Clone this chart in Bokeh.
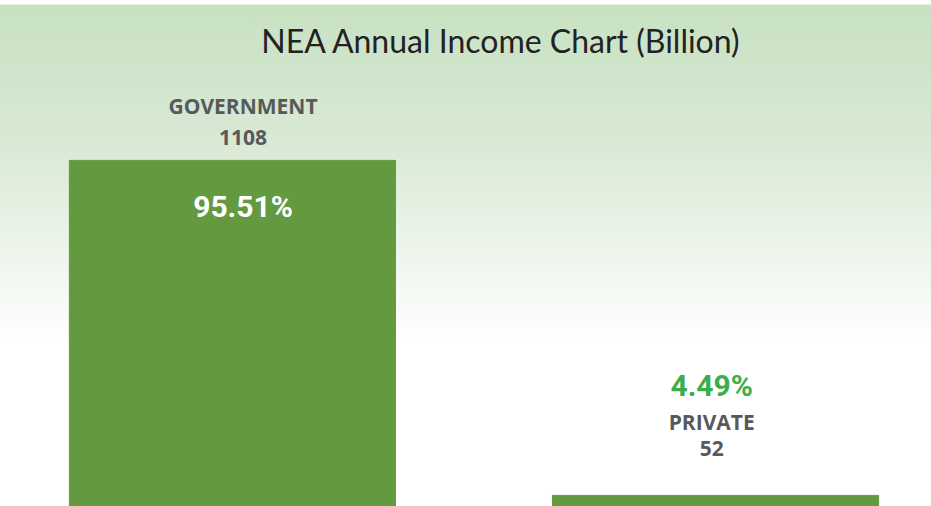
from bokeh.plotting import figure
from bokeh.models import Range1d, ColumnDataSource
from bokeh.core.properties import value
from bokeh.embed import file_html
from bokeh.resources import INLINE

categories = ["GOVERNMENT", "PRIVATE"]
incomes = [1108, 52]
shares = ["95.51%", "4.49%"]

BAR = "#639a3f"
GREY = "#58595b"
PCT_OUT = "#3cae49"

xs = list(range(len(categories)))
src = ColumnDataSource(dict(x=xs, top=incomes))

p = figure(width=931, height=506, output_backend="svg", toolbar_location=None,
           x_range=Range1d(-0.480, 1.447), y_range=Range1d(17, 1612),
           min_border=0)
p.styles = {"background": "linear-gradient(to bottom, #ffffff 0px, #ffffff 4px, #c7e1c2 5px, #d9e9d4 28%, #eef5ec 50%, #ffffff 68%, #ffffff 100%)"}
p.background_fill_color = None
p.border_fill_color = None
p.outline_line_color = None
p.xaxis.visible = False
p.yaxis.visible = False
p.grid.visible = False

p.vbar(x="x", top="top", width=0.675, bottom=0, source=src, color=BAR)

p.text(x=[0.557], y=[1486], text=["NEA Annual Income Chart (Billion)"],
       text_font=value("Lato"), text_font_size="32px", text_color="#222222",
       text_align="center", text_baseline="middle")

big = [i for i, v in enumerate(incomes) if v >= max(incomes) * 0.3]
small = [i for i, v in enumerate(incomes) if v < max(incomes) * 0.3]

label_font = value("Open Sans")
pct_font = value("Roboto")

for idx, dx, (name_off, val_off, pct_off, pct_col) in (
        (big, 0.022, (-54, -23, 46, "white")),
        (small, -0.008, (-73, -47, -110, PCT_OUT))):
    if not idx:
        continue
    sub = ColumnDataSource(dict(x=[xs[i] + dx for i in idx], y=[incomes[i] for i in idx],
                                name=[categories[i] for i in idx],
                                val=[str(incomes[i]) for i in idx],
                                pct=[shares[i] for i in idx]))
    p.text(x="x", y="y", text="name", source=sub, y_offset=name_off,
           text_font=label_font, text_font_style="bold", text_font_size="21px",
           text_color=GREY, text_align="center", text_baseline="middle")
    p.text(x="x", y="y", text="val", source=sub, y_offset=val_off,
           text_font=label_font, text_font_style="bold", text_font_size="21px",
           text_color=GREY, text_align="center", text_baseline="middle")
    p.text(x="x", y="y", text="pct", source=sub, y_offset=pct_off,
           text_font=pct_font, text_font_style="bold", text_font_size="30px",
           text_color=pct_col, text_align="center", text_baseline="middle")

open("out.html", "w").write(file_html(p, INLINE))
